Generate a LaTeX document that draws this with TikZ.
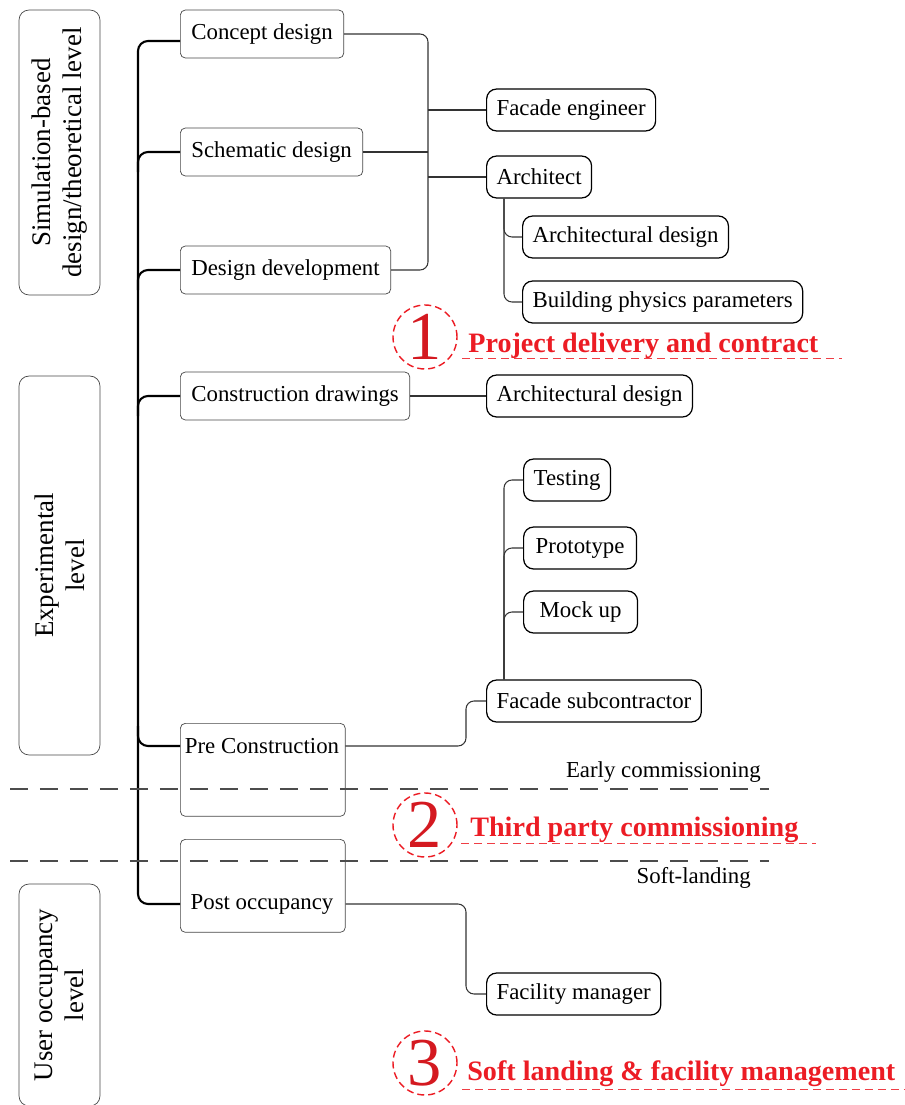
\documentclass[tikz,border=0pt]{standalone}
\usepackage{fontspec}
\setmainfont{Liberation Serif}
\usetikzlibrary{positioning}
\definecolor{phasered}{RGB}{236,28,36}
\definecolor{boxgray}{RGB}{70,70,70}

\begin{document}
\begin{tikzpicture}[x=0.02cm,y=-0.02cm,
  every node/.style={font=\fontsize{13}{15.6}\selectfont},
  level/.style={draw=boxgray,rounded corners=0.2cm,rotate=90,align=center,minimum height=1.62cm,font=\fontsize{15.3}{17.6}\selectfont},
  stage/.style={draw=boxgray,rounded corners=0.1cm,anchor=west,minimum height=0.96cm,inner xsep=0.22cm},
  actor/.style={draw=black,rounded corners=0.2cm,anchor=west,minimum height=0.84cm,inner xsep=0.2cm,line width=0.7pt},
  spine/.style={line width=1.2pt,rounded corners=0.2cm},
  link/.style={draw=black!80,line width=0.6pt,rounded corners=0.16cm},
  sep/.style={draw=black!70,line width=0.9pt,dash pattern=on 0.36cm off 0.24cm},
  num/.style={circle,draw=phasered,line width=0.8pt,dash pattern=on 0.14cm off 0.08cm,minimum size=1.28cm,inner sep=0pt,text=phasered!90!black,font=\fontsize{39}{39}\selectfont},
  phase/.style={anchor=base west,text=phasered,font=\fontsize{16}{19}\selectfont\bfseries,inner sep=0pt},
  uline/.style={draw=phasered!85,line width=0.5pt,dash pattern=on 0.16cm off 0.1cm}]
  \useasboundingbox (0,0) rectangle (904,1105);

  % levels
  \node[level,minimum width=5.7cm] (simlevel) at (59.5,152.5) {Simulation-based\\design/theoretical level};
  \node[level,minimum width=7.58cm] (explevel) at (59.5,565.5) {Experimental\\level};
  \node[level,minimum width=4.44cm] (userlevel) at (59.5,995) {User occupancy\\level};

  % stages
  \node[stage] (concept) at (180,34) {Concept design};
  \node[stage] (schematic) at (180,152) {Schematic design};
  \node[stage] (devel) at (180,270) {Design development};
  \node[stage] (cdraw) at (180,396) {Construction drawings};
  \node[stage,anchor=north west,minimum width=3.3cm,minimum height=1.86cm] (precon) at (180,723) {};
  \node (precontext) at (262,746) {Pre Construction};
  \node[stage,anchor=north west,minimum width=3.3cm,minimum height=1.86cm] (post) at (180,839) {};
  \node (posttext) at (262,904) {Post occupancy};

  % actors
  \node[actor] (facade) at (486,110) {Facade engineer};
  \node[actor] (architect) at (486,177) {Architect};
  \node[actor] (archdesign) at (522,237) {Architectural design};
  \node[actor] (bpp) at (522,302) {Building physics parameters};
  \node[actor] (archdesign2) at (486,396) {Architectural design};
  \node[actor] (testing) at (523,480) {Testing};
  \node[actor,minimum width=2.26cm] (proto) at (523,548) {Prototype};
  \node[actor,minimum width=2.28cm] (mock) at (523,612) {Mock up};
  \node[actor] (facsub) at (486,701) {Facade subcontractor};
  \node[actor] (facility) at (486,994) {Facility manager};

  % spine
  \draw[spine] ([shift={(0,7)}]concept.west) -- ++(-42,0) -- ++(0,863) -- ++(42,0);
  \foreach \n in {schematic,devel,cdraw}
    \draw[spine] (\n.west) -- ++(-42,0) -- ++(0,20);
  \draw[spine] (precon.west |- precontext) -- ++(-42,0) -- ++(0,-20);

  % links
  \coordinate (bar) at (428,150);
  \draw[link] (concept.east) -| (bar) |- (devel.east);
  \draw[link] (schematic.east) -- (schematic.east -| bar);
  \draw[link] (bar |- facade.west) -- (facade.west);
  \draw[link] (bar |- architect.west) -- (architect.west);
  \draw[link] ([shift={(18,0)}]architect.south west) |- (archdesign.west);
  \draw[link] ([shift={(18,0)}]architect.south west) |- (bpp.west);
  \draw[link] (cdraw.east) -- (archdesign2.west);
  \foreach \n in {testing,proto,mock}
    \draw[link] ([shift={(18,0)}]facsub.north west) |- (\n.west);
  \draw[link] (precontext.east) -| (466,724) |- (facsub.west);
  \draw[link] (posttext.east -| post.east) -| (466,950) |- (facility.west);

  % phases
  \draw[sep] (10,789) -- (769,789);
  \draw[sep] (10,861) -- (769,861);
  \node[anchor=base east] (early) at (767,777) {Early commissioning};
  \node[anchor=base east] (soft) at (757,883) {Soft-landing};

  \node[num] (n1) at (425,337) {1};
  \node[phase] (p1) at (468,352) {Project delivery and contract};
  \draw[uline] ([shift={(-6,6)}]p1.base west) -- ++(380,0);
  \node[num] (n2) at (425,825) {2};
  \node[phase] (p2) at (470,836) {Third party commissioning};
  \draw[uline] ([shift={(-9,7)}]p2.base west) -- ++(355,0);
  \node[num] (n3) at (425,1063) {3};
  \node[phase] (p3) at (467,1080) {Soft landing \& facility management};
  \draw[uline] ([shift={(-5,9)}]p3.base west) -- ++(442,0);
\end{tikzpicture}
\end{document}
